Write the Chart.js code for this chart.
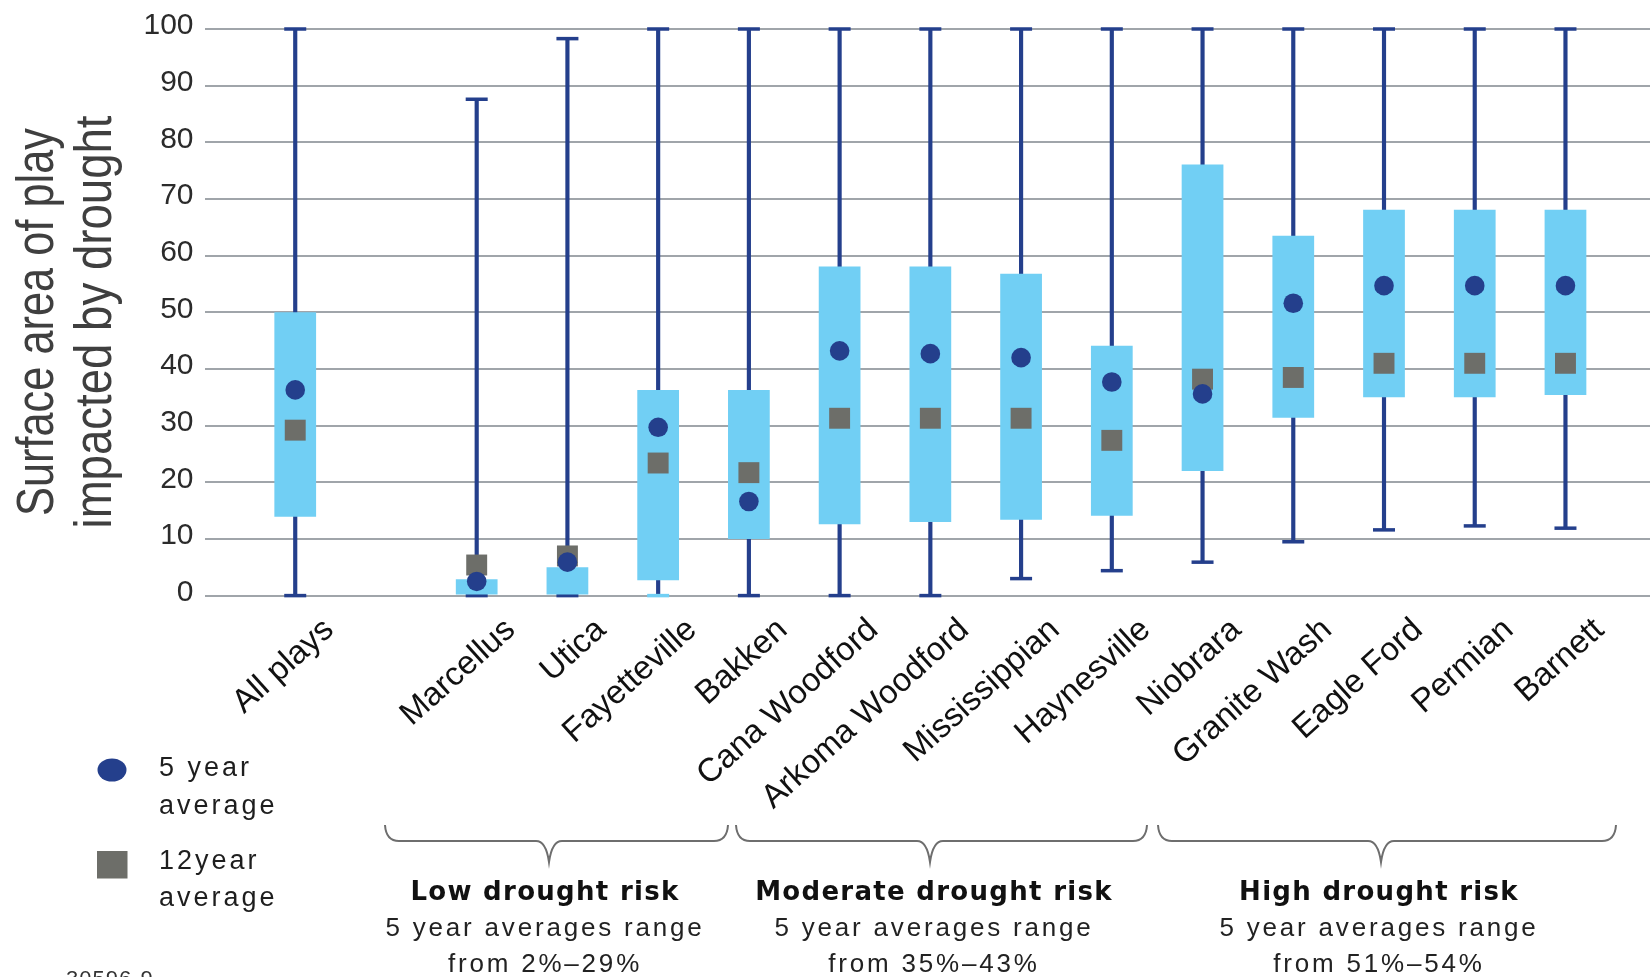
<!DOCTYPE html>
<html>
<head>
<meta charset="utf-8">
<title>Surface area of play impacted by drought</title>
<script src="https://cdn.jsdelivr.net/npm/chart.js@4.4.1/dist/chart.umd.min.js"></script>
<style>
  html, body { margin: 0; padding: 0; background: #ffffff; overflow: hidden; }
  #wrap { position: relative; width: 1671px; height: 977px; }
</style>
</head>
<body>
<div id="wrap"><canvas id="chart" width="1671" height="977"></canvas></div>
<script>
// ---- data (percent of play surface area impacted by drought) ----
const plays = ['', 'All plays', '', 'Marcellus', 'Utica', 'Fayetteville', 'Bakken',
  'Cana Woodford', 'Arkoma Woodford', 'Mississippian', 'Haynesville', 'Niobrara',
  'Granite Wash', 'Eagle Ford', 'Permian', 'Barnett', ''];
const rangeMin = [null, 0, null, 0, 0, 0, 0, 0, 0, 3, 4.4, 5.9, 9.5, 11.6, 12.3, 11.9, null];
const rangeMax = [null, 100, null, 87.6, 98.3, 100, 100, 100, 100, 100, 100, 100, 100, 100, 100, 100, null];
const boxLow = [null, 13.9, null, 0, 0, 2.7, 10, 12.6, 13, 13.4, 14.1, 22, 31.4, 35, 35, 35.4, null];
const boxHigh = [null, 50, null, 2.9, 5, 36.3, 36.3, 58.1, 58.1, 56.8, 44.1, 76.1, 63.5, 68.1, 68.1, 68.1, null];
const avg5yr = [null, 36.3, null, 2.5, 5.9, 29.7, 16.6, 43.2, 42.7, 42, 37.7, 35.6, 51.6, 54.7, 54.7, 54.7, null];
const avg12yr = [null, 29.2, null, 5.4, 7, 23.4, 21.7, 31.3, 31.3, 31.3, 27.4, 38.2, 38.5, 41, 41, 41, null];
const yTicks = [0, 10, 20, 30, 40, 50, 60, 70, 80, 90, 100];

const titleLines = ['Surface area of play', 'impacted by drought'];
const legendItems = [['5 year', 'average'], ['12year', 'average']];
const groupNames = ['Low drought risk', 'Moderate drought risk', 'High drought risk'];
const groupNote = '5 year averages range';
const groupRanges = ['from 2%\u201329%', 'from 35%\u201343%', 'from 51%\u201354%'];
const figureId = '30596-9';

// ---- styling ----
const NAVY = '#243f8c';
const SKY = '#71cff4';
const GREY_SQ = '#6d6e69';
const GRID = '#a0a5aa';
const SANS = '"Liberation Sans", Arial, Helvetica, sans-serif';
const VERDANA_LIKE = '"DejaVu Sans", Verdana, sans-serif';

// annotation layout (canvas pixels)
const titleBaseX = [53, 111];
const titleWidth = [388, 413];
const titleCenterY = 322;
const braces = [[385, 728, 549], [736, 1147, 930], [1158, 1616, 1381]];
const groupCenters = [545, 934, 1379];

const pair = (a, b) => a.map((v, i) => (v == null ? null : [v, b[i]]));
// the Fayetteville lower whisker end is drawn in the box colour
const lowCapColor = (c) => (plays[c.dataIndex] === 'Fayetteville' ? SKY : NAVY);

const annotations = {
  id: 'annotations',
  afterDraw(chart) {
    const ctx = chart.ctx;
    ctx.save();

    // vertical axis title, two condensed lines
    ctx.fillStyle = '#3f3f3f';
    ctx.font = '51px ' + SANS;
    ctx.textAlign = 'center';
    ctx.textBaseline = 'alphabetic';
    titleLines.forEach((t, i) => {
      ctx.save();
      ctx.translate(titleBaseX[i], titleCenterY);
      ctx.rotate(-Math.PI / 2);
      ctx.fillText(t, 0, 0, titleWidth[i]);
      ctx.restore();
    });

    // legend
    ctx.fillStyle = NAVY;
    ctx.beginPath();
    ctx.ellipse(112, 770, 14.5, 11.5, 0, 0, Math.PI * 2);
    ctx.fill();
    ctx.fillStyle = GREY_SQ;
    ctx.fillRect(97, 851, 30.5, 27.5);

    ctx.fillStyle = '#1e1e1e';
    ctx.font = '27px ' + SANS;
    ctx.textAlign = 'left';
    ctx.letterSpacing = '3px';
    const legendBase = [[776, 814], [869, 906]];
    legendItems.forEach((lines, i) => {
      lines.forEach((t, j) => ctx.fillText(t, 159, legendBase[i][j]));
    });

    // group braces
    ctx.letterSpacing = '0px';
    ctx.strokeStyle = '#6e6e6e';
    ctx.lineWidth = 2;
    const yTop = 825, yMid = 841, yTip = 862;
    braces.forEach(([x0, x1, xd]) => {
      ctx.beginPath();
      ctx.moveTo(x0, yTop);
      ctx.quadraticCurveTo(x0 + 1, yMid, x0 + 14, yMid);
      ctx.lineTo(xd - 13, yMid);
      ctx.quadraticCurveTo(xd - 3, yMid, xd, yTip);
      ctx.quadraticCurveTo(xd + 3, yMid, xd + 13, yMid);
      ctx.lineTo(x1 - 14, yMid);
      ctx.quadraticCurveTo(x1 - 1, yMid, x1, yTop);
      ctx.stroke();
    });

    // group captions
    ctx.textAlign = 'center';
    groupNames.forEach((name, i) => {
      const cx = groupCenters[i];
      ctx.fillStyle = '#111';
      ctx.font = 'bold 26px ' + VERDANA_LIKE;
      ctx.letterSpacing = '1.3px';
      ctx.fillText(name, cx, 900);
      ctx.fillStyle = '#222';
      ctx.font = '26px ' + SANS;
      ctx.letterSpacing = '2.8px';
      ctx.fillText(groupNote, cx, 936);
      ctx.fillText(groupRanges[i], cx, 972);
    });

    // figure number at the lower left
    ctx.letterSpacing = '1px';
    ctx.textAlign = 'left';
    ctx.textBaseline = 'top';
    ctx.fillStyle = '#333';
    ctx.font = '22px ' + SANS;
    ctx.fillText(figureId, 66, 969);

    ctx.restore();
  }
};

new Chart(document.getElementById('chart'), {
  data: {
    labels: plays,
    datasets: [
      {
        type: 'bar', label: 'range', data: pair(rangeMin, rangeMax),
        backgroundColor: NAVY, barThickness: 3.5, grouped: false, order: 5, clip: false
      },
      {
        type: 'line', label: 'range min', data: rangeMin, showLine: false,
        pointStyle: 'line', pointRadius: 11, pointBorderWidth: 3.5,
        pointBorderColor: lowCapColor, order: 4, clip: false
      },
      {
        type: 'line', label: 'range max', data: rangeMax, showLine: false,
        pointStyle: 'line', pointRadius: 11, pointBorderWidth: 3.5,
        pointBorderColor: NAVY, order: 4, clip: false
      },
      {
        type: 'bar', label: 'interquartile', data: pair(boxLow, boxHigh),
        backgroundColor: SKY, borderWidth: 0, barPercentage: 0.46, categoryPercentage: 1,
        grouped: false, order: 3, clip: false
      },
      {
        type: 'line', label: '12year average', data: avg12yr, showLine: false,
        pointStyle: 'rect', pointRadius: 14.8, pointBorderWidth: 0,
        pointBackgroundColor: GREY_SQ, order: 2, clip: false
      },
      {
        type: 'line', label: '5 year average', data: avg5yr, showLine: false,
        pointStyle: 'circle', pointRadius: 9.8, pointBorderWidth: 0,
        pointBackgroundColor: NAVY, order: 1, clip: false
      }
    ]
  },
  options: {
    responsive: false,
    devicePixelRatio: 1,
    animation: false,
    events: [],
    layout: { padding: { top: 27.4, left: 0, right: 4.2, bottom: 0 } },
    plugins: { legend: { display: false }, tooltip: { enabled: false } },
    scales: {
      x: {
        type: 'category',
        offset: false,
        grid: { display: false },
        border: { display: false },
        ticks: {
          autoSkip: false, minRotation: 42, maxRotation: 42,
          padding: 7, labelOffset: 34,
          color: '#111', font: { family: SANS, size: 33 }
        },
        afterFit(scale) {
          scale.height = 381.4;
          scale.paddingLeft = 0;
          scale.paddingRight = 0;
        }
      },
      y: {
        min: 0, max: 100,
        afterBuildTicks(scale) { scale.ticks = yTicks.map(v => ({ value: v })); },
        grid: { color: GRID, lineWidth: 2, drawTicks: false },
        border: { display: false },
        ticks: {
          padding: 11, labelOffset: -3,
          color: '#2b2b2b', font: { family: SANS, size: 30 }
        },
        afterFit(scale) { scale.width = 204.5; }
      }
    }
  },
  plugins: [annotations]
});
</script>
</body>
</html>
